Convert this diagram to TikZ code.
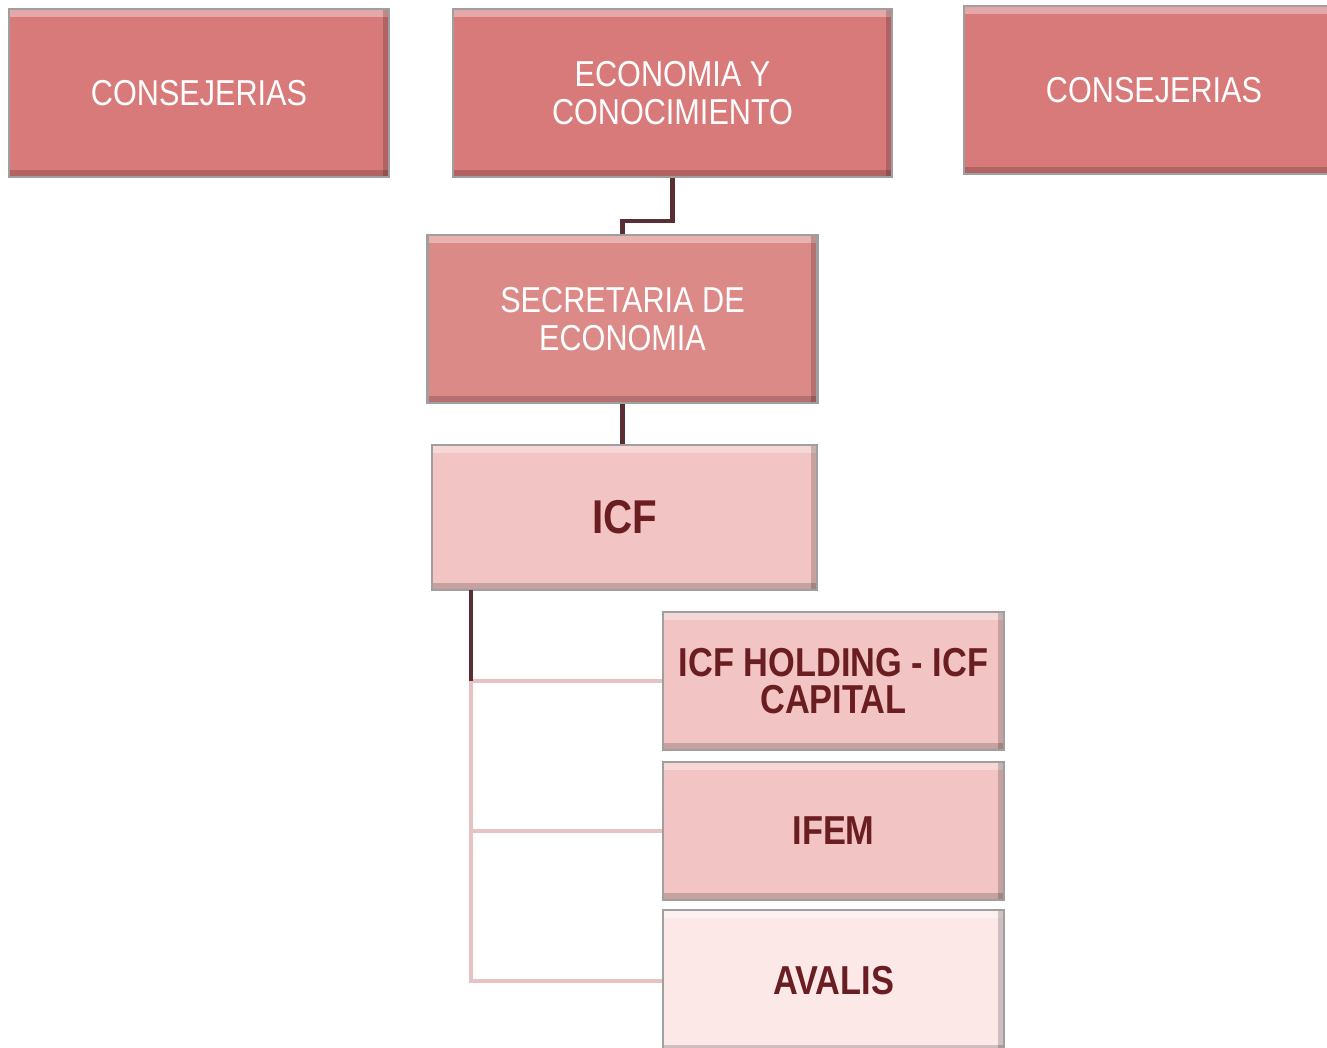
\documentclass[tikz,border=0pt]{standalone}
\usepackage{fontspec}
\setmainfont{Liberation Sans}[FakeStretch=0.85]
\usetikzlibrary{positioning}
\definecolor{toprose}{HTML}{D87A7A}
\definecolor{secrose}{HTML}{DC8A88}
\definecolor{icfpink}{HTML}{F3C4C4}
\definecolor{avalpink}{HTML}{FDE8E8}
\definecolor{textdark}{HTML}{6B1E22}
\definecolor{linedark}{HTML}{5A2E33}
\definecolor{linelight}{HTML}{E6C2C2}
\tikzset{
  orgbox/.style={draw=gray!75, line width=1.2pt, align=center, inner sep=0pt,
    path picture={
      \fill[white, opacity=0.35] (path picture bounding box.north west) rectangle ([yshift=-0.16cm]path picture bounding box.north east);
      \fill[black, opacity=0.18] (path picture bounding box.south west) rectangle ([yshift=0.14cm]path picture bounding box.south east);
      \fill[black, opacity=0.18] ([xshift=-0.12cm]path picture bounding box.north east) rectangle (path picture bounding box.south east);
    }},
  topbox/.style={orgbox, fill=toprose, text=white, minimum width=7.6cm, minimum height=3.36cm,
    font=\fontsize{20.5}{21.5}\selectfont},
  secbox/.style={orgbox, fill=secrose, text=white, minimum width=7.8cm, minimum height=3.36cm,
    font=\fontsize{20.5}{21.5}\selectfont},
  subbox/.style={orgbox, fill=icfpink, text=textdark, minimum width=6.82cm, minimum height=2.76cm,
    font=\bfseries\fontsize{23}{21.5}\selectfont},
  darkline/.style={draw=linedark, line width=2.6pt},
  lightline/.style={draw=linelight, line width=2.2pt}
}
\begin{document}
\begin{tikzpicture}[x=0.02cm, y=-0.02cm]
  \useasboundingbox (0,0) rectangle (1327,1047);
  \node[topbox] (consL) at (199,93) {CONSEJERIAS};
  \node[topbox, minimum width=8.78cm] (econ) at (672.5,93) {ECONOMIA Y\\CONOCIMIENTO};
  \node[topbox] (consR) at (1154,90) {CONSEJERIAS};
  \node[secbox] (secr) at (622.5,319) {SECRETARIA DE\\ECONOMIA};
  \node[subbox, minimum width=7.7cm, minimum height=2.9cm, font=\bfseries\fontsize{27}{27}\selectfont] (icf) at (624.5,517.5) {ICF};
  \node[subbox] (hold) at (833.5,681) {ICF HOLDING - ICF\\CAPITAL};
  \node[subbox] (ifem) at (833.5,831) {IFEM};
  \node[subbox, fill=avalpink, minimum height=2.84cm] (aval) at (833.5,981) {AVALIS};
  \coordinate (trunk) at (471,590);

  \draw[darkline] (econ.south) -- ++(0,43) -| (secr.north);
  \draw[darkline] (secr.south) -- (secr.south |- icf.north);
  \draw[lightline] (hold.west) -| (trunk |- aval.west) -- (aval.west);
  \draw[lightline] (ifem.west) -- (trunk |- ifem.west);
  \draw[darkline] (trunk) -- (trunk |- hold.west);
\end{tikzpicture}
\end{document}
